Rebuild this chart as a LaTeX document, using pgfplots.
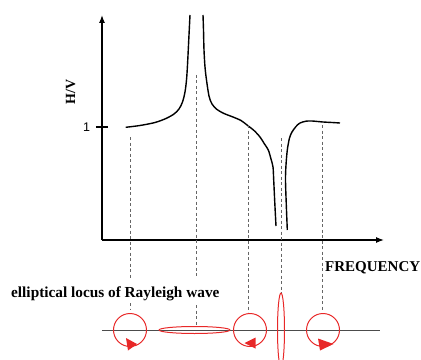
\documentclass[border=0pt]{standalone}
\usepackage{fontspec}
\setmainfont{Liberation Serif}
\newfontfamily\arial{Liberation Sans}
\usepackage{pgfplots}
\pgfplotsset{compat=1.18}
\usetikzlibrary{arrows.meta}
\definecolor{locred}{RGB}{232,40,40}
\begin{document}
\begin{tikzpicture}
\begin{axis}[
 scale only axis, width=282bp, height=225bp,
 xmin=102, xmax=384, ymin=120, ymax=345,
 enlargelimits=false,
 axis lines=left,
 axis line style={line width=1.2bp, -{Latex[length=8bp,width=6bp]}},
 xtick=\empty, ytick=\empty,
 clip=false,
]
\coordinate (BL) at (axis cs:0,0);
\coordinate (TR) at (axis cs:421,360);
% tick "1"
\draw[black, line width=1.1bp] (axis cs:96,233) -- (axis cs:108.5,233);
\node[font=\arial\fontsize{12.5bp}{14bp}\selectfont, inner sep=0] at (axis cs:86.5,233) {1};
% H/V curve
\addplot[black, line width=1.4bp, smooth, tension=0.5] coordinates {
(125.7,232.7)(140,234.5)(155,237.5)(166,241.5)(174,246)(179,251)(182.5,258)(185,268)(186.5,280)(187.5,295)(188.5,315)(189.5,335)(190,345)};
\addplot[black, line width=1.4bp, smooth, tension=0.5] coordinates {
(203,345)(203.5,330)(204,310)(205,293)(206.5,280)(209,264)(212,256)(217,250.5)(224,246.5)(233,243)(241,239.5)(247,235)(254,229.5)(260,223)(264.5,216)(268.3,210)(271,201)(273,193)(273.7,180)(274.8,157)(276,134)};
\addplot[black, line width=1.4bp, smooth, tension=0.5] coordinates {
(287.3,130)(286.3,155)(285.5,180)(286,195)(287.3,210)(289.5,222)(292,228)(296,233.5)(300,237)(306,238.8)(312,239)(323,238)(332,237.5)(340,237)};
% dashed guides
\tikzset{dl/.style={gray!80!black, line width=0.9bp, dash pattern=on 3bp off 2.5bp}}
\draw[dl] (axis cs:130,223) -- (axis cs:130,82);
\draw[dl] (axis cs:130,57) -- (axis cs:130,50);
\draw[dl] (axis cs:196,285) -- (axis cs:196,82);
\draw[dl] (axis cs:196,55) -- (axis cs:196,34);
\draw[dl] (axis cs:248,235) -- (axis cs:248,48);
\draw[dl] (axis cs:281,222) -- (axis cs:281,67);
\draw[dl] (axis cs:322,235) -- (axis cs:322,50);
% baseline
\draw[gray!60!black, line width=1bp] (axis cs:102,30) -- (axis cs:380,30);
% loci
\draw[locred, line width=1bp] (axis cs:130,30) circle[radius=16.5bp];
\draw[locred, line width=1bp] (axis cs:194.5,30) ellipse[x radius=35.5bp, y radius=3.5bp];
\draw[locred, line width=1bp] (axis cs:250,30) circle[radius=16.5bp];
\draw[locred, line width=1bp] (axis cs:281,30) ellipse[x radius=3.5bp, y radius=37bp];
\draw[locred, line width=1bp] (axis cs:323,30) circle[radius=16.5bp];
\fill[locred] (axis cs:126,22) -- (axis cs:137,16) -- (axis cs:128,9.5) -- cycle;
\fill[locred] (axis cs:244.5,17) -- (axis cs:255.5,22.5) -- (axis cs:255.5,11.5) -- cycle;
\fill[locred] (axis cs:333.5,16) -- (axis cs:318,21.5) -- (axis cs:320,9.5) -- cycle;
% texts
\node[font=\bfseries\fontsize{15.3bp}{18bp}\selectfont, anchor=west, inner sep=0] at (axis cs:11,66) {elliptical locus of Rayleigh wave};
\node[font=\bfseries\fontsize{15bp}{18bp}\selectfont, anchor=west, inner sep=0] at (axis cs:325,92) {FREQUENCY};
\node[font=\bfseries\fontsize{14bp}{16bp}\selectfont, rotate=90, inner sep=0] at (axis cs:70.5,268) {H/V};
\end{axis}
\pgfresetboundingbox
\path[use as bounding box] (BL) rectangle (TR);
\end{tikzpicture}
\end{document}
